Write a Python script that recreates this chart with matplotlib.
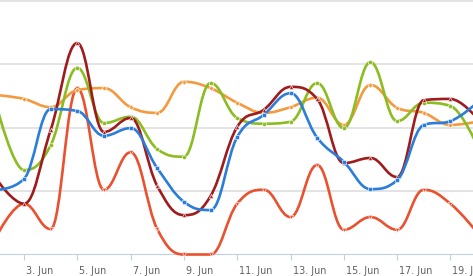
import matplotlib
matplotlib.use('Agg')
import matplotlib.pyplot as plt
import matplotlib.transforms as mtransforms
from matplotlib.path import Path
from matplotlib.patches import PathPatch

days = list(range(2, 21))
tick_days = [3, 5, 7, 9, 11, 13, 15, 17, 19]
tick_labels = [f"{d}. Jun" for d in tick_days]

blue = [10.2, 11.9, 22.9, 22.6, 18.7, 19.9, 13.6, 8.3, 7.0, 18.5, 22.0, 25.4, 18.4, 14.6, 10.3, 11.7, 20.4, 21.0, 23.9]
green = [23.0, 13.3, 17.2, 29.4, 20.7, 21.7, 16.6, 15.4, 27.0, 21.5, 20.6, 20.9, 27.0, 19.9, 30.3, 21.0, 23.9, 23.4, 17.2]
darkred = [11.7, 8.0, 19.6, 33.3, 19.3, 21.5, 10.8, 6.2, 9.2, 20.1, 22.8, 26.4, 24.5, 14.4, 15.2, 12.2, 24.3, 24.5, 21.5]
orange = [25.1, 24.5, 23.2, 25.9, 26.2, 23.2, 22.3, 27.2, 26.2, 23.9, 22.3, 23.2, 24.7, 20.4, 26.7, 23.1, 22.3, 20.4, 20.9]
red = [3.1, 8.0, 4.0, 26.2, 10.2, 16.1, 4.0, 0.0, 0.0, 8.0, 10.2, 5.9, 14.1, 3.9, 5.9, 3.9, 10.2, 8.0, 3.5]

series = [
    (red, '#e9512f', 'v'),
    (orange, '#f39a3e', 'D'),
    (green, '#8bbc21', 'o'),
    (darkred, '#a01b1b', '^'),
    (blue, '#2b7ddb', 's'),
]


def hc_spline(xs, ys, smoothing=1.5):
    n = len(xs)
    denom = smoothing + 1
    lc = [None] * n
    rc = [None] * n
    for i in range(n):
        x, y = xs[i], ys[i]
        if 0 < i < n - 1:
            lx, ly = xs[i - 1], ys[i - 1]
            nx, ny = xs[i + 1], ys[i + 1]
            lcx = (smoothing * x + lx) / denom
            lcy = (smoothing * y + ly) / denom
            rcx = (smoothing * x + nx) / denom
            rcy = (smoothing * y + ny) / denom
            corr = 0.0
            if rcx != lcx:
                corr = (rcy - lcy) * (rcx - x) / (rcx - lcx) + y - rcy
            lcy += corr
            rcy += corr
            if lcy > ly and lcy > y:
                lcy = max(ly, y); rcy = 2 * y - lcy
            elif lcy < ly and lcy < y:
                lcy = min(ly, y); rcy = 2 * y - lcy
            if rcy > ny and rcy > y:
                rcy = max(ny, y); lcy = 2 * y - rcy
            elif rcy < ny and rcy < y:
                rcy = min(ny, y); lcy = 2 * y - rcy
            lc[i] = (lcx, lcy)
            rc[i] = (rcx, rcy)
        else:
            lc[i] = (x, y)
            rc[i] = (x, y)
    verts = [(xs[0], ys[0])]
    codes = [Path.MOVETO]
    for i in range(1, n):
        verts += [rc[i - 1], lc[i], (xs[i], ys[i])]
        codes += [Path.CURVE4] * 3
    return Path(verts, codes)


W, H = 473, 276
fig = plt.figure(figsize=(W / 100, H / 100), dpi=100)
ax = fig.add_axes([0, 0, 1, 1])
ax.set_xlim(2.0994, 19.848)
ax.set_ylim(-3.386, 40.08)
ax.set_facecolor('white')

for gv in [10, 20, 30, 40]:
    ax.axhline(gv, color='#e3e3e3', lw=1.4, zorder=1)

for s in ['top', 'right', 'left']:
    ax.spines[s].set_visible(False)
ax.spines['bottom'].set_position(('data', 0))
ax.spines['bottom'].set_color('#c0d0e0')
ax.spines['bottom'].set_linewidth(0.8)
ax.set_yticks([])
ax.set_xticks(tick_days)
ax.set_xticklabels(tick_labels, ha='left')
ax.tick_params(axis='x', direction='out', length=4.5, width=0.8, color='#c0d0e0',
               labelsize=6.9, labelcolor='#606060', pad=4)

offset = mtransforms.ScaledTranslation(2 / 100, 0, fig.dpi_scale_trans)
for lab in ax.get_xticklabels():
    lab.set_transform(lab.get_transform() + offset)

for i, (vals, col, mk) in enumerate(series):
    p = hc_spline(days, vals)
    ax.add_patch(PathPatch(p, facecolor='none', edgecolor=col, lw=1.9,
                           capstyle='round', joinstyle='round', zorder=3 + i))
    ms = 2.6 if mk == 'D' else 3.0
    ax.plot(days, vals, linestyle='none', marker=mk, markersize=ms,
            markerfacecolor=col, markeredgecolor='white', markeredgewidth=0.4,
            zorder=3.5 + i, clip_on=True)

fig.savefig('out.png', dpi=100)
